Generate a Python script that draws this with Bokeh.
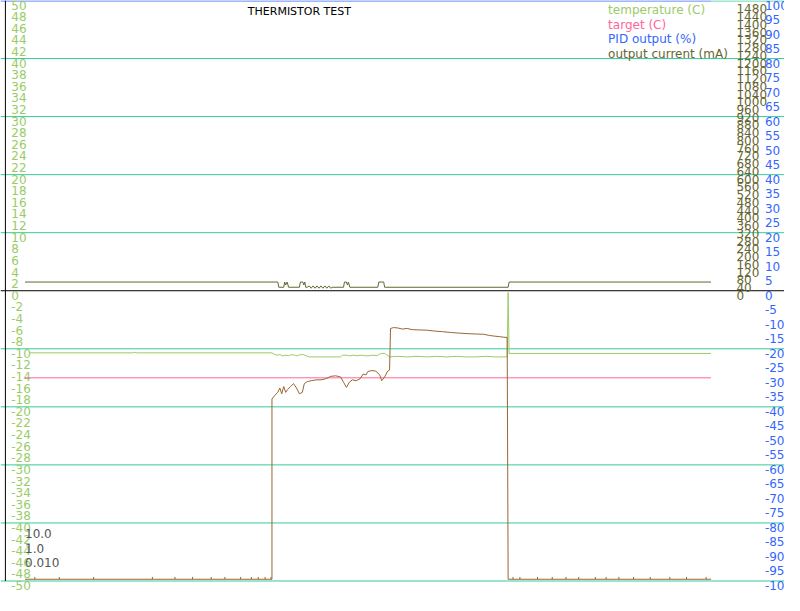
from bokeh.plotting import figure
from bokeh.models import Range1d
from bokeh.core.properties import value
from bokeh.embed import file_html
from bokeh.resources import INLINE

FONT = "DejaVu Sans"

# ---------------- data (time in s) ----------------
temp_t = [5, 110, 112, 114, 252, 254, 257, 260, 263, 266,
          269, 272, 275, 278, 281, 284, 287, 290, 322, 324,
          328, 331, 335, 339, 343, 347, 351, 355, 359, 362,
          364, 367, 369, 372, 380, 390, 400, 410, 420, 430,
          440, 450, 460, 470, 480, 492, 493, 494, 700]
temp_v = [-10.7, -10.7, -10.6, -10.7, -10.7, -10.9, -11.1, -11.0, -11.2, -11.1,
          -11.2, -11.0, -11.1, -11.2, -11.0, -11.0, -11.2, -11.4, -11.4, -11.1,
          -11.1, -11.2, -11.1, -11.2, -11.1, -11.2, -11.2, -11.1, -11.2, -10.9,
          -10.8, -10.8, -11.0, -11.4, -11.3, -11.4, -11.3, -11.4, -11.3, -11.4,
          -11.3, -11.4, -11.4, -11.3, -11.4, -11.4, -0.3, -10.8, -10.8]

target_t = [0, 700]
target_v = [-15, -15]

cur_t = [0, 258, 259, 264, 265, 266, 267.5, 269, 280, 281,
         283.5, 284.5, 285.5, 286.5, 288, 290, 292, 294, 296, 298,
         300, 302, 304, 306, 308, 310, 312, 313.5, 325, 326,
         328, 329, 330, 331.5, 360, 361, 366, 367, 493, 494,
         700]
cur_v = [45, 45, 18, 18, 45, 30, 45, 18, 18, 45,
         45, 30, 45, 18, 18, 25, 13, 25, 13, 25,
         13, 25, 13, 25, 13, 25, 13, 18, 18, 45,
         45, 30, 45, 18, 18, 45, 45, 18, 18, 45,
         45]

pid_t = [0, 252, 252, 255, 258, 260, 262, 264, 266, 268,
         271, 274, 277, 280, 283, 285, 288, 292, 297, 302,
         307, 312, 317, 322, 325, 328, 331, 334, 338, 342,
         345, 348, 350, 354, 358, 362, 364, 367, 370, 372,
         373, 376, 380, 385, 390, 395, 402, 410, 418, 426,
         435, 443, 452, 460, 468, 474, 478, 484, 488, 492,
         493, 700]
pid_v = [-99.4, -99.4, -37.3, -36.0, -35.0, -33.5, -35.5, -33.0, -35.0, -34.0,
         -33.0, -32.0, -33.5, -35.5, -35.0, -32.0, -31.3, -31.0, -30.7, -30.7,
         -30.3, -29.5, -29.3, -29.7, -31.5, -33.3, -31.5, -30.7, -31.0, -30.3,
         -28.7, -29.0, -27.8, -27.5, -27.7, -29.0, -31.0, -29.7, -27.7, -27.3,
         -13.0, -12.7, -12.8, -13.2, -13.0, -13.4, -13.5, -13.6, -13.9, -14.1,
         -14.4, -14.6, -14.8, -14.9, -15.0, -15.4, -15.6, -15.8, -16.0, -16.1,
         -99.4, -99.4]
pid_spike_t = [10, 35, 70, 130, 153, 171, 190, 204, 220, 231, 238, 245, 251,
               498, 505, 523, 538, 552, 565, 582, 593, 606, 621, 638, 658, 675, 695]
pid_spike_lo = -99.4
pid_spike_hi = -98.6

left_ticks = list(range(50, -52, -2))
pid_ticks = list(range(100, -101, -5))
cur_ticks = list(range(0, 1481, 40))
grid_vals = [40, 30, 20, 10, -10, -20, -30, -40, -50]

title = "THERMISTOR TEST"
legend_labels = ["temperature (C)", "target (C)", "PID output (%)", "output current (mA)"]
legend_colors = ["#99cc66", "#ff6699", "#3366ff", "#666633"]
pid_params = ["10.0", "1.0", "0.010"]

# ---------------- layout helpers ----------------
W, H = 784, 595          # scaled from the 800 x 611 reference
REF_H = 615.0            # a little room below the lowest tick label
X0, X1 = -25, 775        # 1 s per reference pixel


def ly(px):
    """reference pixel row -> left-axis value"""
    return 50 - px / 6.0


p = figure(width=W, height=H, x_range=Range1d(X0, X1),
           y_range=Range1d(ly(REF_H), 50),
           x_axis_type=None, y_axis_type=None,
           output_backend="svg", toolbar_location=None,
           min_border=0, outline_line_color=None,
           background_fill_color="white", border_fill_color="white")
p.extra_y_ranges = {
    "pid": Range1d(100 - REF_H / 3.0, 100),
    "cur": Range1d(1500 - REF_H * 5.0, 1500),
}

GRID = "#33cc99"
# grid lines
p.segment(x0=[X0] * len(grid_vals), x1=[X1] * len(grid_vals),
          y0=grid_vals, y1=grid_vals, line_color=GRID, line_width=1)
p.segment(x0=[700], x1=[X1], y0=[ly(0.5)], y1=[ly(0.5)], line_color=GRID, line_width=1)
p.segment(x0=[X0], x1=[700], y0=[ly(0.5)], y1=[ly(0.5)], line_color="#3366ff", line_width=1)
# zero line + left axis line
p.segment(x0=[X0], x1=[X1], y0=[0], y1=[0], line_color="black", line_width=1)
p.segment(x0=[-20], x1=[-20], y0=[50], y1=[-50], line_color="black", line_width=1)

# tick labels
p.text(x=[-14] * len(left_ticks), y=left_ticks, text=[str(v) for v in left_ticks],
       text_font=value(FONT), text_font_size="12px", text_color="#99cc66",
       text_align="left", text_baseline="top")
p.text(x=[726] * len(cur_ticks), y=cur_ticks, text=[str(v) for v in cur_ticks],
       text_font=value(FONT), text_font_size="12px", text_color="#666633",
       text_align="left", text_baseline="top", y_range_name="cur")
p.text(x=[755] * len(pid_ticks), y=pid_ticks, text=[str(v) for v in pid_ticks],
       text_font=value(FONT), text_font_size="12px", text_color="#3366ff",
       text_align="left", text_baseline="top", y_range_name="pid")

# series
p.line(target_t, target_v, line_color="#ff6699", line_width=1)
p.line(temp_t, temp_v, line_color="#99cc66", line_width=1)
p.line(cur_t, cur_v, line_color="#666633", line_width=1, y_range_name="cur")
p.line(pid_t, pid_v, line_color="#996633", line_width=1, y_range_name="pid")
p.segment(x0=pid_spike_t, x1=pid_spike_t,
          y0=[pid_spike_lo] * len(pid_spike_t), y1=[pid_spike_hi] * len(pid_spike_t),
          line_color="#996633", line_width=1, y_range_name="pid")

# title
p.text(x=[280], y=[ly(11)], text=[title], text_font=value(FONT),
       text_font_size="11px", text_color="black",
       text_align="center", text_baseline="middle")

# legend (text only)
p.text(x=[595] * len(legend_labels), y=[ly(10 + 15 * i) for i in range(len(legend_labels))],
       text=legend_labels, text_color=legend_colors,
       text_font=value(FONT), text_font_size="12px",
       text_align="left", text_baseline="middle")

# PID parameters
p.text(x=[0] * len(pid_params), y=[ly(551 + 15 * i) for i in range(len(pid_params))],
       text=pid_params, text_font=value(FONT), text_font_size="12px",
       text_color="#555555", text_align="left", text_baseline="middle")

open("out.html", "w").write(file_html(p, INLINE))
